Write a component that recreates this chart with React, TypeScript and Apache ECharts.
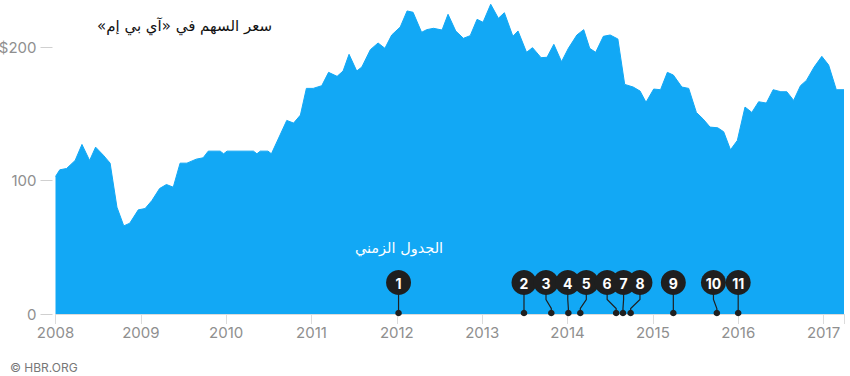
import React, { useEffect, useRef } from "react";
import * as echarts from "echarts";

// IBM share price (decimal year, USD)
const priceDates = [
  2008.0, 2008.05, 2008.13, 2008.23, 2008.31, 2008.4, 2008.47, 2008.56, 2008.64, 2008.72,
  2008.8, 2008.87, 2008.97, 2009.05, 2009.13, 2009.22, 2009.3, 2009.38, 2009.46, 2009.54,
  2009.65, 2009.73, 2009.79, 2009.93, 2009.97, 2010.01, 2010.28, 2010.32, 2010.36, 2010.4,
  2010.49, 2010.53, 2010.71, 2010.79, 2010.87, 2010.94, 2011.02, 2011.12, 2011.2, 2011.3,
  2011.37, 2011.44, 2011.53, 2011.59, 2011.69, 2011.78, 2011.86, 2011.94, 2012.04, 2012.12,
  2012.19, 2012.29, 2012.35, 2012.43, 2012.53, 2012.6, 2012.69, 2012.78, 2012.86, 2012.94,
  2013.01, 2013.1, 2013.19, 2013.26, 2013.36, 2013.42, 2013.52, 2013.59, 2013.69, 2013.76,
  2013.84, 2013.93, 2014.01, 2014.11, 2014.19, 2014.26, 2014.33, 2014.42, 2014.5, 2014.59,
  2014.67, 2014.77, 2014.85, 2014.92, 2015.01, 2015.09, 2015.17, 2015.24, 2015.34, 2015.42,
  2015.51, 2015.59, 2015.67, 2015.76, 2015.83, 2015.91, 2015.99, 2016.08, 2016.16, 2016.24,
  2016.33, 2016.41, 2016.5, 2016.57, 2016.65, 2016.73, 2016.8, 2016.89, 2016.98, 2017.06,
  2017.15, 2017.24,
];
const priceValues = [
  103, 108, 109, 115, 127, 115, 125, 119, 113, 80,
  66, 68, 78, 79, 85, 94, 97, 95, 113, 113,
  116, 117, 122, 122, 120, 122, 122, 122, 120, 122,
  122, 120, 145, 143, 149, 169, 169, 171, 181, 178,
  182, 194.5, 182, 185, 198, 203, 199, 209, 215, 227,
  226, 211, 213, 214, 212.7, 224.5, 212, 206.5, 208.5, 220.7,
  218.5, 232, 221.5, 225.7, 208, 212, 196, 199.5, 192, 192.3,
  202, 189, 199, 209, 213, 199, 196, 208, 209, 206,
  172, 170, 167, 158.6, 168.5, 168, 181, 179, 170, 169,
  151, 146, 140, 139.5, 136.5, 123, 130, 155, 151, 159,
  158, 168, 166.5, 166.5, 160, 171, 175, 185, 193, 186.5,
  168, 168,
];

// Timeline events
const eventDates = [2012.02, 2013.49, 2013.81, 2014.01, 2014.15, 2014.57, 2014.65, 2014.74, 2015.24, 2015.75, 2016.0];
const eventLabels = ["1", "2", "3", "4", "5", "6", "7", "8", "9", "10", "11"];

const yTicks = [0, 100, 200];
const title = "\u200Fسعر السهم في «آي بي إم»\u200F";
const timelineTitle = "الجدول الزمني";
const credit = "© HBR.ORG";

// layout: horizontal shift of each event badge from its date (px)
const badgeShift = [0, 0, -5.3, -0.6, 6, -9, 0.6, 9.3, 0, -3.4, 0];

const BLUE = "#12a8f5";
const DARK = "#1f1f1f";
const GRAY = "#8f8f8f";

export default function App() {
  const ref = useRef<HTMLDivElement>(null);
  useEffect(() => {
    if (!ref.current) return;
    const chart = echarts.init(ref.current, undefined, { renderer: "svg" });
    const priceData = priceDates.map((d, i) => [d, priceValues[i]]);
    chart.setOption({
      animation: false,
      textStyle: { fontFamily: "Inter, sans-serif" },
      grid: { left: 55.5, right: 6, top: 47, bottom: 62, containLabel: false, outerBoundsMode: "none" },
      xAxis: {
        type: "value",
        min: 2008,
        max: 2017.24,
        interval: 1,
        axisLine: { show: true, lineStyle: { color: "#dcdcdc", width: 1 } },
        axisTick: { show: true, length: 10, lineStyle: { color: "#dcdcdc" } },
        splitLine: { show: false },
        axisLabel: {
          color: GRAY,
          fontSize: 15,
          margin: 11,
          fontFamily: "Inter, sans-serif",
          formatter: (v: number) => (Math.abs(v - Math.round(v)) < 1e-6 ? String(Math.round(v)) : ""),
        },
        z: 5,
      },
      yAxis: {
        type: "value",
        min: 0,
        max: 200,
        interval: 100,
        offset: 3,
        axisLine: { show: false },
        axisTick: { show: true, length: 12, lineStyle: { color: "#d0d0d0" } },
        splitLine: { show: false },
        axisLabel: {
          color: GRAY,
          fontSize: 15,
          margin: 16,
          fontFamily: "Inter, sans-serif",
          formatter: (v: number) => (yTicks.includes(v) ? (v === 200 ? "$200" : String(v)) : ""),
        },
      },
      graphic: [
        {
          type: "text",
          x: 272,
          y: 26,
          style: {
            text: title,
            align: "right",
            verticalAlign: "middle",
            fontSize: 15,
            fontFamily: "DejaVu Sans, sans-serif",
            fill: "#111",
          },
          z: 10,
        },
        {
          type: "text",
          x: 399,
          y: 248,
          style: {
            text: timelineTitle,
            align: "center",
            verticalAlign: "middle",
            fontSize: 14.5,
            fontFamily: "DejaVu Sans, sans-serif",
            fill: "#ffffff",
          },
          z: 10,
        },
        {
          type: "text",
          x: 10,
          y: 367,
          style: {
            text: credit,
            align: "left",
            verticalAlign: "middle",
            fontSize: 12,
            fontFamily: "Inter, sans-serif",
            fill: "#777",
          },
        },
      ],
      series: [
        {
          type: "line",
          data: priceData,
          symbol: "none",
          clip: false,
          lineStyle: { width: 1, color: BLUE },
          areaStyle: { color: BLUE, opacity: 1 },
          z: 2,
        },
        {
          type: "custom",
          data: eventDates.map((d) => [d, 0]),
          clip: false,
          z: 6,
          renderItem: (params: any, api: any) => {
            const i = params.dataIndex;
            const p = api.coord([api.value(0), 0]);
            const dx = p[0];
            const dy = p[1] - 1;
            const lx = dx + badgeShift[i];
            const cy = dy - 30.5;
            return {
              type: "group",
              children: [
                {
                  type: "polyline",
                  shape: { points: [[lx, cy], [lx, cy + 17], [dx, cy + 26], [dx, dy]] },
                  style: { stroke: DARK, lineWidth: 1.2, fill: "none" },
                },
                { type: "circle", shape: { cx: dx, cy: dy, r: 3.3 }, style: { fill: DARK } },
                { type: "circle", shape: { cx: lx, cy, r: 12.5 }, style: { fill: DARK } },
                {
                  type: "text",
                  x: lx,
                  y: cy + 1,
                  style: {
                    text: eventLabels[i],
                    align: "center",
                    verticalAlign: "middle",
                    fontSize: 14,
                    fontWeight: "bold",
                    fontFamily: "Inter, sans-serif",
                    fill: "#fff",
                  },
                },
              ],
            };
          },
        },
      ],
    });
    return () => chart.dispose();
  }, []);
  return <div ref={ref} style={{ position: "absolute", left: 0, top: 0, width: 850, height: 376 }} />;
}
